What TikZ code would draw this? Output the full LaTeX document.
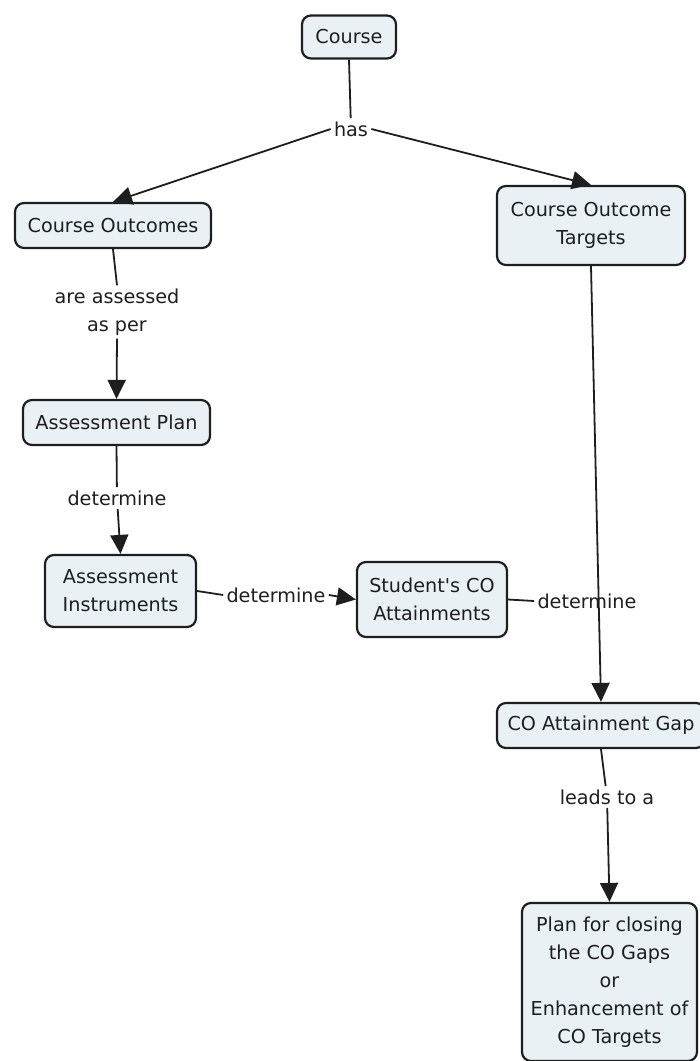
\documentclass[tikz,border=0pt]{standalone}
\usepackage{fontspec}
\setmainfont{DejaVu Sans}[Ligatures=TeXOff]
\usetikzlibrary{arrows.meta}
\definecolor{boxfill}{RGB}{233,241,245}
\definecolor{ink}{RGB}{30,30,30}
\begin{document}
\begin{tikzpicture}[x=0.5pt,y=-0.5pt,
  concept/.style={draw=ink, line width=1.1pt, fill=boxfill, rounded corners=4.5pt,
    align=center, inner sep=0pt, text=ink, font=\fontsize{9.6}{14}\selectfont},
  linkph/.style={align=center, inner sep=1.5pt, text=ink, font=\fontsize{9.6}{14}\selectfont},
  conn/.style={line width=0.9pt, draw=ink},
  arr/.style={conn, -{Triangle[length=9.5pt,width=9pt]}}]
\useasboundingbox (0,0) rectangle (700,1061);
\node[concept, minimum width=47pt, minimum height=21.5pt] (course) at (349,37) {Course};
\node[linkph] (has) at (351,129) {has};
\node[concept, minimum width=98pt, minimum height=22.5pt] (co) at (113,225.5) {Course Outcomes};
\node[concept, minimum width=94pt, minimum height=39.5pt] (cot) at (591,225.5) {Course Outcome\\Targets};
\node[linkph] (aap) at (117,312) {are assessed\\as per};
\node[concept, minimum width=93.5pt, minimum height=22.5pt] (ap) at (116.5,422.5) {Assessment Plan};
\node[linkph] (det1) at (117,498) {determine};
\node[concept, minimum width=75.5pt, minimum height=36pt] (ai) at (120.5,591) {Assessment\\Instruments};
\node[linkph] (det2) at (276,595) {determine};
\node[concept, minimum width=75pt, minimum height=37.5pt] (sca) at (432,599.5) {Student's CO\\Attainments};
\node[linkph] (det3) at (587,601) {determine};
\node[concept, minimum width=104pt, minimum height=22.5pt] (gap) at (601,725.5) {CO Attainment Gap};
\node[linkph] (lead) at (607,797) {leads to a};
\node[concept, minimum width=87.5pt, minimum height=79pt] (plan) at (609.5,982) {Plan for closing\\the CO Gaps\\or\\Enhancement of\\CO Targets};

\draw[conn] (course.south) -- (has);
\draw[arr] (has.west) -- (co.north);
\draw[arr] (has.east) -- (cot.north);
\draw[conn] (co.south) -- (aap.north);
\draw[arr] (aap.south) -- (ap.north);
\draw[conn] (ap.south) -- (det1);
\draw[arr] (det1) -- (ai.north);
\draw[conn] (ai.east) -- (det2.west);
\draw[arr] (det2.east) -- (sca.west);
\draw[conn] (sca.east) -- (det3.west);
\draw[arr] (cot.south) -- (gap.north);
\draw[conn] (gap.south) -- (lead);
\draw[arr] (lead) -- (plan.north);
\end{tikzpicture}
\end{document}
